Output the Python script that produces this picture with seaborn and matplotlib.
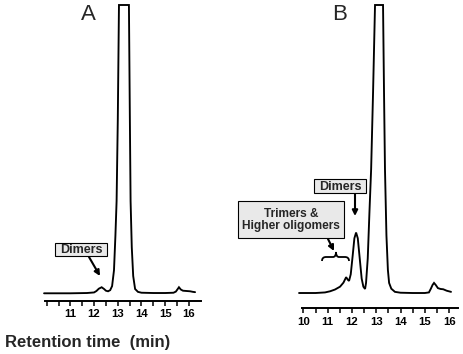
import numpy as np
import pandas as pd
import seaborn as sns
import matplotlib
matplotlib.use('Agg')
from matplotlib import pyplot as plt
from matplotlib.patches import Rectangle, PathPatch
from matplotlib.path import Path
from matplotlib.transforms import Affine2D

# chromatogram A (time in min, signal scaled so the clipped top = 100)
a_time = [9.89, 11.0, 11.7, 12.0, 12.1, 12.2, 12.32, 12.42, 12.5, 12.59, 12.68,
          12.76, 12.84, 12.9, 12.95, 13.0, 13.05, 13.47, 13.51, 13.54, 13.59,
          13.65, 13.73, 13.85, 14.0, 14.5, 15.0, 15.35, 15.45, 15.52, 15.58,
          15.66, 15.75, 15.9, 16.05, 16.17, 16.26]
a_signal = [0.0, 0.0, 0.1, 0.3, 0.8, 1.6, 2.1, 1.5, 0.9, 0.7, 1.1,
            2.5, 8.0, 20.0, 32.0, 60.0, 100.0, 100.0, 60.0, 32.0, 16.0,
            6.0, 1.5, 0.5, 0.2, 0.1, 0.1, 0.2, 0.6, 1.4, 2.1,
            1.3, 0.9, 0.8, 0.7, 0.5, 0.4]

# chromatogram B
b_time = [9.82, 10.5, 10.89, 11.1, 11.3, 11.51, 11.65, 11.76, 11.83, 11.88,
          11.95, 12.03, 12.1, 12.17, 12.24, 12.32, 12.4, 12.47, 12.54, 12.58,
          12.65, 12.72, 12.79, 12.87, 12.95, 13.28, 13.32, 13.36, 13.42, 13.48,
          13.53, 13.62, 13.77, 14.0, 14.5, 15.0, 15.17, 15.25, 15.32, 15.38,
          15.45, 15.54, 15.65, 15.76, 15.9, 16.08]
b_signal = [0.0, 0.0, 0.2, 0.6, 1.2, 2.2, 3.6, 5.5, 4.6, 4.2,
            6.5, 13.0, 19.0, 21.0, 19.0, 12.0, 5.0, 2.2, 1.4, 3.5,
            12.0, 28.0, 43.0, 70.0, 100.0, 100.0, 70.0, 43.0, 20.0, 8.0,
            3.5, 1.5, 0.4, 0.1, 0.0, 0.0, 0.2, 1.5, 2.8, 3.5,
            2.8, 1.7, 1.4, 1.3, 0.8, 0.4]

a_ticks = [10, 10.5, 11, 11.5, 12, 12.5, 13, 13.5, 14, 14.5, 15, 15.5, 16]
a_labels = ['', '', '11', '', '12', '', '13', '', '14', '', '15', '', '16']
b_ticks = [10, 10.5, 11, 11.5, 12, 12.5, 13, 13.5, 14, 14.5, 15, 15.5, 16]
b_labels = ['10', '', '11', '', '12', '', '13', '', '14', '', '15', '', '16']

sns.set_style('white')
plt.rcParams['font.family'] = ['Liberation Sans', 'DejaVu Sans']

W, H = 463, 354
fig = plt.figure(figsize=(W / 100, H / 100), dpi=100)
# pixel coordinates (origin top-left) for annotations
pix = Affine2D().scale(1 / W, -1 / H).translate(0, 1) + fig.transFigure


def make_axes(left, right, axis_y, top, xlim, ylim_bottom):
    ax = fig.add_axes([left / W, (H - axis_y) / H, (right - left) / W,
                       (axis_y - top) / H])
    ax.set_xlim(*xlim)
    ax.set_ylim(ylim_bottom, 100)
    for s in ['top', 'right', 'left']:
        ax.spines[s].set_visible(False)
    ax.spines['bottom'].set_linewidth(1.4)
    ax.spines['bottom'].set_color('black')
    ax.set_yticks([])
    ax.patch.set_alpha(0)
    return ax


ax_a = make_axes(45, 201, 301, 5, (9.93, 16.51), -2.67)
ax_b = make_axes(301.7, 458.3, 308.3, 5, (9.93, 16.38), -5.31)

sns.lineplot(x=a_time, y=a_signal, ax=ax_a, color='black', lw=1.35,
             sort=False, estimator=None)
sns.lineplot(x=b_time, y=b_signal, ax=ax_b, color='black', lw=1.35,
             sort=False, estimator=None)

for ax, ticks, labels, pad in [(ax_a, a_ticks, a_labels, 2.2),
                               (ax_b, b_ticks, b_labels, 2.7)]:
    for ln in ax.lines:
        ln.set_clip_on(False)
        ln.set_solid_joinstyle('miter')
    ax.set_xticks(ticks)
    ax.set_xticklabels(labels, fontsize=8.2, fontweight='bold')
    ax.tick_params(axis='x', direction='out', length=3.6, width=1.1,
                   colors='black', pad=pad, bottom=True)
    ax.set_xlabel('')
    ax.set_ylabel('')

# panel letters
fig.text(88 / W, 1 - 15 / H, 'A', fontsize=16, ha='center', va='center')
fig.text(340 / W, 1 - 15 / H, 'B', fontsize=16, ha='center', va='center')

fig.text(5 / W, 1 - 342 / H, 'Retention time  (min)', fontsize=12,
         fontweight='bold', ha='left', va='center')


def label_box(x0, y0, x1, y1, text, size):
    fig.add_artist(Rectangle((x0, y0), x1 - x0, y1 - y0, transform=pix,
                             facecolor='#e9e9e9', edgecolor='black', lw=0.8))
    fig.text((x0 + x1) / 2 / W, 1 - ((y0 + y1) / 2 + 0.5) / H, text,
             fontsize=size, fontweight='bold', ha='center', va='center',
             linespacing=1.1)


def arrow(x0, y0, x1, y1):
    ax_a.annotate('', xy=(x1, y1), xytext=(x0, y0), xycoords=pix,
                  textcoords=pix, annotation_clip=False,
                  arrowprops=dict(arrowstyle='-|>', color='black', lw=1.5,
                                  mutation_scale=8, shrinkA=0, shrinkB=0))


label_box(55, 243, 107, 256, 'Dimers', 9)
arrow(89, 257, 100, 276)

label_box(314, 179, 366, 193, 'Dimers', 9)
arrow(355, 193, 355, 216)

label_box(238, 201, 344, 238, 'Trimers &\nHigher oligomers', 8.6)
arrow(328, 239, 334, 251)

# curly brace over the trimer region
verts = [(322, 261), (322, 257), (326, 257), (333, 257), (336, 257), (336, 252),
         (336, 257), (339, 257), (345, 257), (349, 257), (349, 261)]
codes = [Path.MOVETO, Path.CURVE3, Path.CURVE3, Path.LINETO, Path.CURVE3,
         Path.CURVE3, Path.CURVE3, Path.CURVE3, Path.LINETO, Path.CURVE3,
         Path.CURVE3]
fig.add_artist(PathPatch(Path(verts, codes), transform=pix, fill=False,
                         lw=1.3, edgecolor='black'))

fig.savefig('out.png', dpi=100)
